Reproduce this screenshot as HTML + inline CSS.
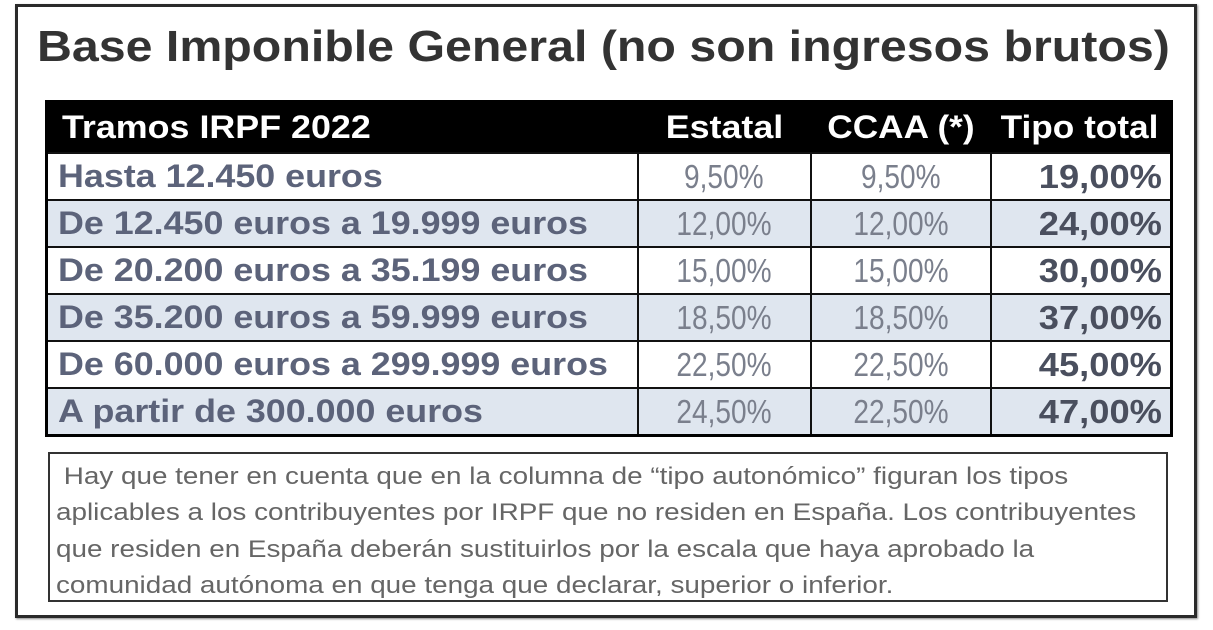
<!DOCTYPE html>
<html><head><meta charset="utf-8"><style>
body{margin:0;width:1213px;height:630px;background:#fff;overflow:hidden;font-family:"Liberation Sans",Arial,sans-serif;}
#frame{position:absolute;left:15px;top:4px;width:1176px;height:608px;border:3px solid #2a2a2a;box-shadow:1px 1px 2px #888;}
#title{position:absolute;left:37px;top:22px;font-size:44px;font-weight:bold;color:#333;white-space:nowrap;transform:scaleX(1.098);transform-origin:left top}
table{position:absolute;left:45px;top:100px;width:1125px;border-collapse:collapse;border:3px solid #000;table-layout:fixed}
td,th{height:45px;padding:0 10px;border:2px solid #111;font-size:31px;white-space:nowrap;overflow:visible}
th{background:#000;color:#fff;height:49px;border:none;text-align:left;font-weight:bold;font-size:32px}
.s{display:inline-block}
td.l{font-weight:bold;color:#5c637a;text-align:left;padding-left:10px;font-size:32px}
td.v{color:#7a7f8c;text-align:center;font-weight:normal;font-size:33px}
td.t{color:#4a4f5e;text-align:right;font-weight:bold;padding-right:8px;font-size:33px}
td.l .s{transform:scaleX(1.12);transform-origin:left center}
td.v .s{transform:scaleX(0.85);transform-origin:center center}
td.t .s{transform:scaleX(1.1);transform-origin:right center}
tr.alt td{background:#dfe6ef}
#note{position:absolute;left:48px;top:452px;width:1120px;height:150px;border:2px solid #333;box-sizing:border-box}
#note div{position:absolute;left:6px;top:5px;font-size:24px;color:#666;line-height:36.3px;white-space:nowrap;transform:scaleX(1.16);transform-origin:left top}
</style></head><body>
<div id="frame"></div>
<div id="title">Base Imponible General (no son ingresos brutos)</div>
<table>
<colgroup><col style="width:591px"><col style="width:173px"><col style="width:180px"><col style="width:181px"></colgroup>
<tr><th style="padding-left:14px"><span class="s" style="transform:scaleX(1.12);transform-origin:left center">Tramos IRPF 2022</span></th><th style="text-align:center"><span class="s" style="transform:scaleX(1.12)">Estatal</span></th><th style="text-align:center"><span class="s" style="transform:scaleX(1.1)">CCAA (*)</span></th><th style="text-align:right;padding-right:12px"><span class="s" style="transform:scaleX(1.1);transform-origin:right center">Tipo total</span></th></tr>
<tr><td class="l"><span class="s">Hasta 12.450 euros</span></td><td class="v"><span class="s">9,50%</span></td><td class="v"><span class="s">9,50%</span></td><td class="t"><span class="s">19,00%</span></td></tr>
<tr class="alt"><td class="l"><span class="s">De 12.450 euros a 19.999 euros</span></td><td class="v"><span class="s">12,00%</span></td><td class="v"><span class="s">12,00%</span></td><td class="t"><span class="s">24,00%</span></td></tr>
<tr><td class="l"><span class="s">De 20.200 euros a 35.199 euros</span></td><td class="v"><span class="s">15,00%</span></td><td class="v"><span class="s">15,00%</span></td><td class="t"><span class="s">30,00%</span></td></tr>
<tr class="alt"><td class="l"><span class="s">De 35.200 euros a 59.999 euros</span></td><td class="v"><span class="s">18,50%</span></td><td class="v"><span class="s">18,50%</span></td><td class="t"><span class="s">37,00%</span></td></tr>
<tr><td class="l"><span class="s">De 60.000 euros a 299.999 euros</span></td><td class="v"><span class="s">22,50%</span></td><td class="v"><span class="s">22,50%</span></td><td class="t"><span class="s">45,00%</span></td></tr>
<tr class="alt"><td class="l"><span class="s">A partir de 300.000 euros</span></td><td class="v"><span class="s">24,50%</span></td><td class="v"><span class="s">22,50%</span></td><td class="t"><span class="s">47,00%</span></td></tr>
</table>
<div id="note"><div>&nbsp;Hay que tener en cuenta que en la columna de “tipo autonómico” figuran los tipos<br>aplicables a los contribuyentes por IRPF que no residen en España. Los contribuyentes<br>que residen en España deberán sustituirlos por la escala que haya aprobado la<br>comunidad autónoma en que tenga que declarar, superior o inferior.</div></div>
</body></html>
